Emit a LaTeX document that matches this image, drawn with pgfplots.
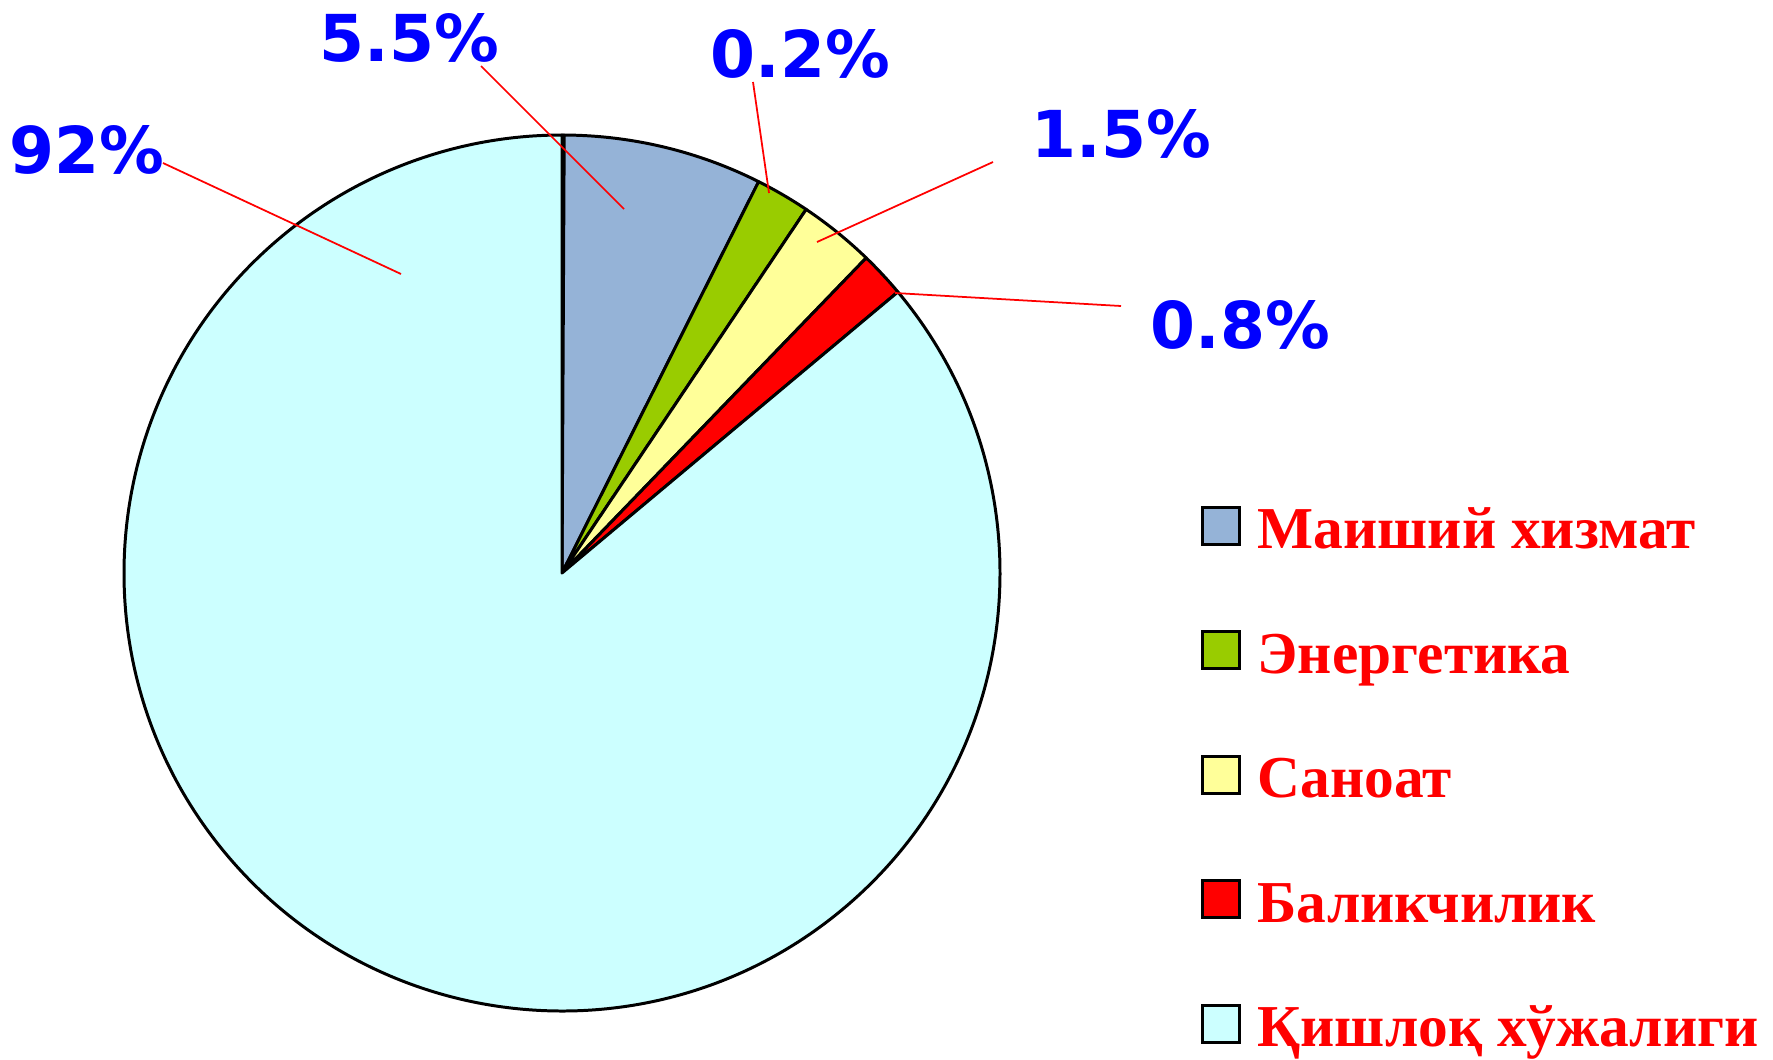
\documentclass[border=0pt]{standalone}
\usepackage{fontspec}
\setmainfont{Liberation Serif}
\newfontfamily\labelfont{DejaVu Sans}
\usepackage{pgfplots}
\usepackage{pgfplotstable}
\pgfplotsset{compat=1.18}

\definecolor{pblue}{RGB}{149,179,215}
\definecolor{pgreen}{RGB}{153,204,0}
\definecolor{pyellow}{RGB}{255,255,153}
\definecolor{pred}{RGB}{255,0,0}
\definecolor{pcyan}{RGB}{204,255,255}
\definecolor{lblue}{RGB}{0,0,255}

% slice shares (percent of the circle), clockwise from 12 o'clock
\pgfplotstableread[col sep=comma]{
share,color
0.08,pcyan
7.33,pblue
2.00,pgreen
2.81,pyellow
1.69,pred
86.09,pcyan
}\piedata

\newcommand{\lbl}{\labelfont\bfseries\fontsize{18.4}{22}\selectfont\color{lblue}}

\begin{document}
\begin{tikzpicture}
  \begin{axis}[
    scale only axis,
    width=17.73cm, height=10.59cm,
    xmin=0, xmax=1773, ymin=0, ymax=1059,
    y dir=reverse,
    hide axis,
    clip=false,
    legend style={
      at={(axis cs:1200,505)}, anchor=north west,
      draw=none, fill=none, inner sep=0pt,
      font=\bfseries\fontsize{16.9}{19}\selectfont,
      text=red,
      row sep=0.785cm, column sep=0.17cm,
      nodes={inner sep=0pt, text height=0.4cm, text depth=0.03cm},
    },
    legend cell align=left,
    legend image code/.code={\draw[#1, line width=0.85pt] (0cm,-0.14cm) rectangle (0.37cm,0.23cm);},
  ]
    \pgfplotstablegetrowsof{\piedata}
    \pgfmathtruncatemacro{\lastrow}{\pgfplotsretval-1}
    \def\cum{0}
    \pgfplotsforeachungrouped \i in {0,...,\lastrow}{%
      \pgfplotstablegetelem{\i}{share}\of\piedata \let\v\pgfplotsretval
      \pgfplotstablegetelem{\i}{color}\of\piedata \let\c\pgfplotsretval
      \pgfmathsetmacro{\sa}{90-3.6*\cum}
      \pgfmathsetmacro{\ea}{90-3.6*(\cum+\v)}
      \pgfmathsetmacro{\cum}{\cum+\v}
      \edef\temp{\noexpand\filldraw[fill=\c, draw=black, line width=0.85pt, line join=round]
        (axis cs:562,573) -- ++(\sa:4.38cm) arc[start angle=\sa, end angle=\ea, radius=4.38cm] -- cycle;}
      \temp
    }

    % leader lines
    \draw[red, line width=0.5pt] (axis cs:163,163) -- (axis cs:401,274);
    \draw[red, line width=0.5pt] (axis cs:481,66) -- (axis cs:624,209);
    \draw[red, line width=0.5pt] (axis cs:753,82) -- (axis cs:769,193);
    \draw[red, line width=0.5pt] (axis cs:993,162) -- (axis cs:817,242);
    \draw[red, line width=0.5pt] (axis cs:1121,306) -- (axis cs:895,293);

    % data labels
    \node[anchor=base west, inner sep=0pt] at (axis cs:9,173) {\lbl 92\%};
    \node[anchor=base west, inner sep=0pt] at (axis cs:319,61) {\lbl 5.5\%};
    \node[anchor=base west, inner sep=0pt] at (axis cs:710,77) {\lbl 0.2\%};
    \node[anchor=base west, inner sep=0pt] at (axis cs:1031,157) {\lbl 1.5\%};
    \node[anchor=base west, inner sep=0pt] at (axis cs:1150,348) {\lbl 0.8\%};

    \addlegendimage{fill=pblue, draw=black}
    \addlegendentry{Маиший хизмат}
    \addlegendimage{fill=pgreen, draw=black}
    \addlegendentry{Энергетика}
    \addlegendimage{fill=pyellow, draw=black}
    \addlegendentry{Саноат}
    \addlegendimage{fill=pred, draw=black}
    \addlegendentry{Баликчилик}
    \addlegendimage{fill=pcyan, draw=black}
    \addlegendentry{Қишлоқ хўжалиги}
  \end{axis}
  \pgfresetboundingbox
  \useasboundingbox (current axis.south west) rectangle (current axis.north east);
\end{tikzpicture}
\end{document}
